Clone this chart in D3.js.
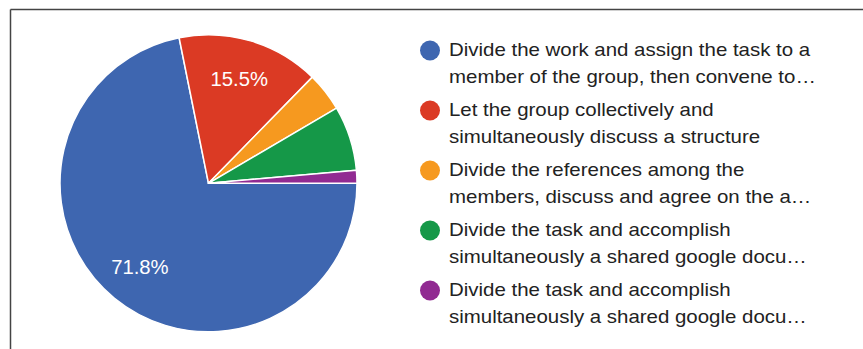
<!DOCTYPE html>
<html>
<head>
<meta charset="utf-8">
<script src="https://cdn.jsdelivr.net/npm/d3@7"></script>
<style>
  html, body { margin: 0; padding: 0; background: #fff; }
  svg { display: block; }
</style>
</head>
<body>
<svg id="chart" width="863" height="349"></svg>
<script>
// Response categories (legend text, two lines each)
const categories = [
  ["Divide the work and assign the task to a", "member of the group, then convene to…"],
  ["Let the group collectively and", "simultaneously discuss a structure"],
  ["Divide the references among the", "members, discuss and agree on the a…"],
  ["Divide the task and accomplish", "simultaneously a shared google docu…"],
  ["Divide the task and accomplish", "simultaneously a shared google docu…"]
];
// Number of responses per category
const counts = [51, 11, 3, 5, 1];
const colors = ["#3e66b0", "#db3a24", "#f6991f", "#159848", "#912a92"];

const svg = d3.select("#chart");
const font = "Arial, 'Liberation Sans', Helvetica, sans-serif";

// Frame lines (top and left)
svg.append("line").attr("x1", 10.5).attr("x2", 863).attr("y1", 9.5).attr("y2", 9.5)
  .attr("stroke", "#444").attr("stroke-width", 1.5);
svg.append("line").attr("x1", 10.5).attr("x2", 10.5).attr("y1", 9.5).attr("y2", 349)
  .attr("stroke", "#444").attr("stroke-width", 1.5);

const cx = 208.5, cy = 183.3, r = 148.5;
const total = d3.sum(counts);

// Pie starts at 3 o'clock and runs clockwise
const pie = d3.pie().sort(null).value(d => d)
  .startAngle(Math.PI / 2).endAngle(Math.PI / 2 + 2 * Math.PI);
const arcs = pie(counts);
const arc = d3.arc().innerRadius(0).outerRadius(r);
const labelArc = d3.arc().innerRadius(r * 0.73).outerRadius(r * 0.73);

const g = svg.append("g").attr("transform", `translate(${cx},${cy})`);
g.selectAll("path.slice").data(arcs).enter().append("path")
  .attr("class", "slice")
  .attr("d", arc)
  .attr("fill", (d, i) => colors[i])
  .attr("stroke", "#fff")
  .attr("stroke-width", 1.5)
  .attr("stroke-linejoin", "round");

const fmt = d3.format(".1%");
g.selectAll("text.pct").data(arcs.filter(d => d.value / total > 0.1)).enter().append("text")
  .attr("class", "pct")
  .attr("transform", d => `translate(${labelArc.centroid(d)}) scale(1.04,1)`)
  .attr("text-anchor", "middle")
  .attr("dy", "0.33em")
  .attr("fill", "#fff")
  .attr("font-family", font)
  .attr("font-size", "19.5px")
  .text(d => fmt(d.value / total));

// Legend
const legend = svg.append("g");
const items = legend.selectAll("g.item").data(categories).enter().append("g")
  .attr("class", "item")
  .attr("transform", (d, i) => `translate(430,${50.5 + i * 60})`);
items.append("circle").attr("r", 10).attr("fill", (d, i) => colors[i]);
items.each(function(lines) {
  const t = d3.select(this).append("text")
    .attr("transform", "translate(19,0) scale(1.105,1)")
    .attr("font-family", font)
    .attr("font-size", "18.5px")
    .attr("fill", "#222");
  lines.forEach((ln, j) => {
    t.append("tspan").attr("x", 0).attr("y", 5.4 + j * 27).text(ln);
  });
});
</script>
</body>
</html>
